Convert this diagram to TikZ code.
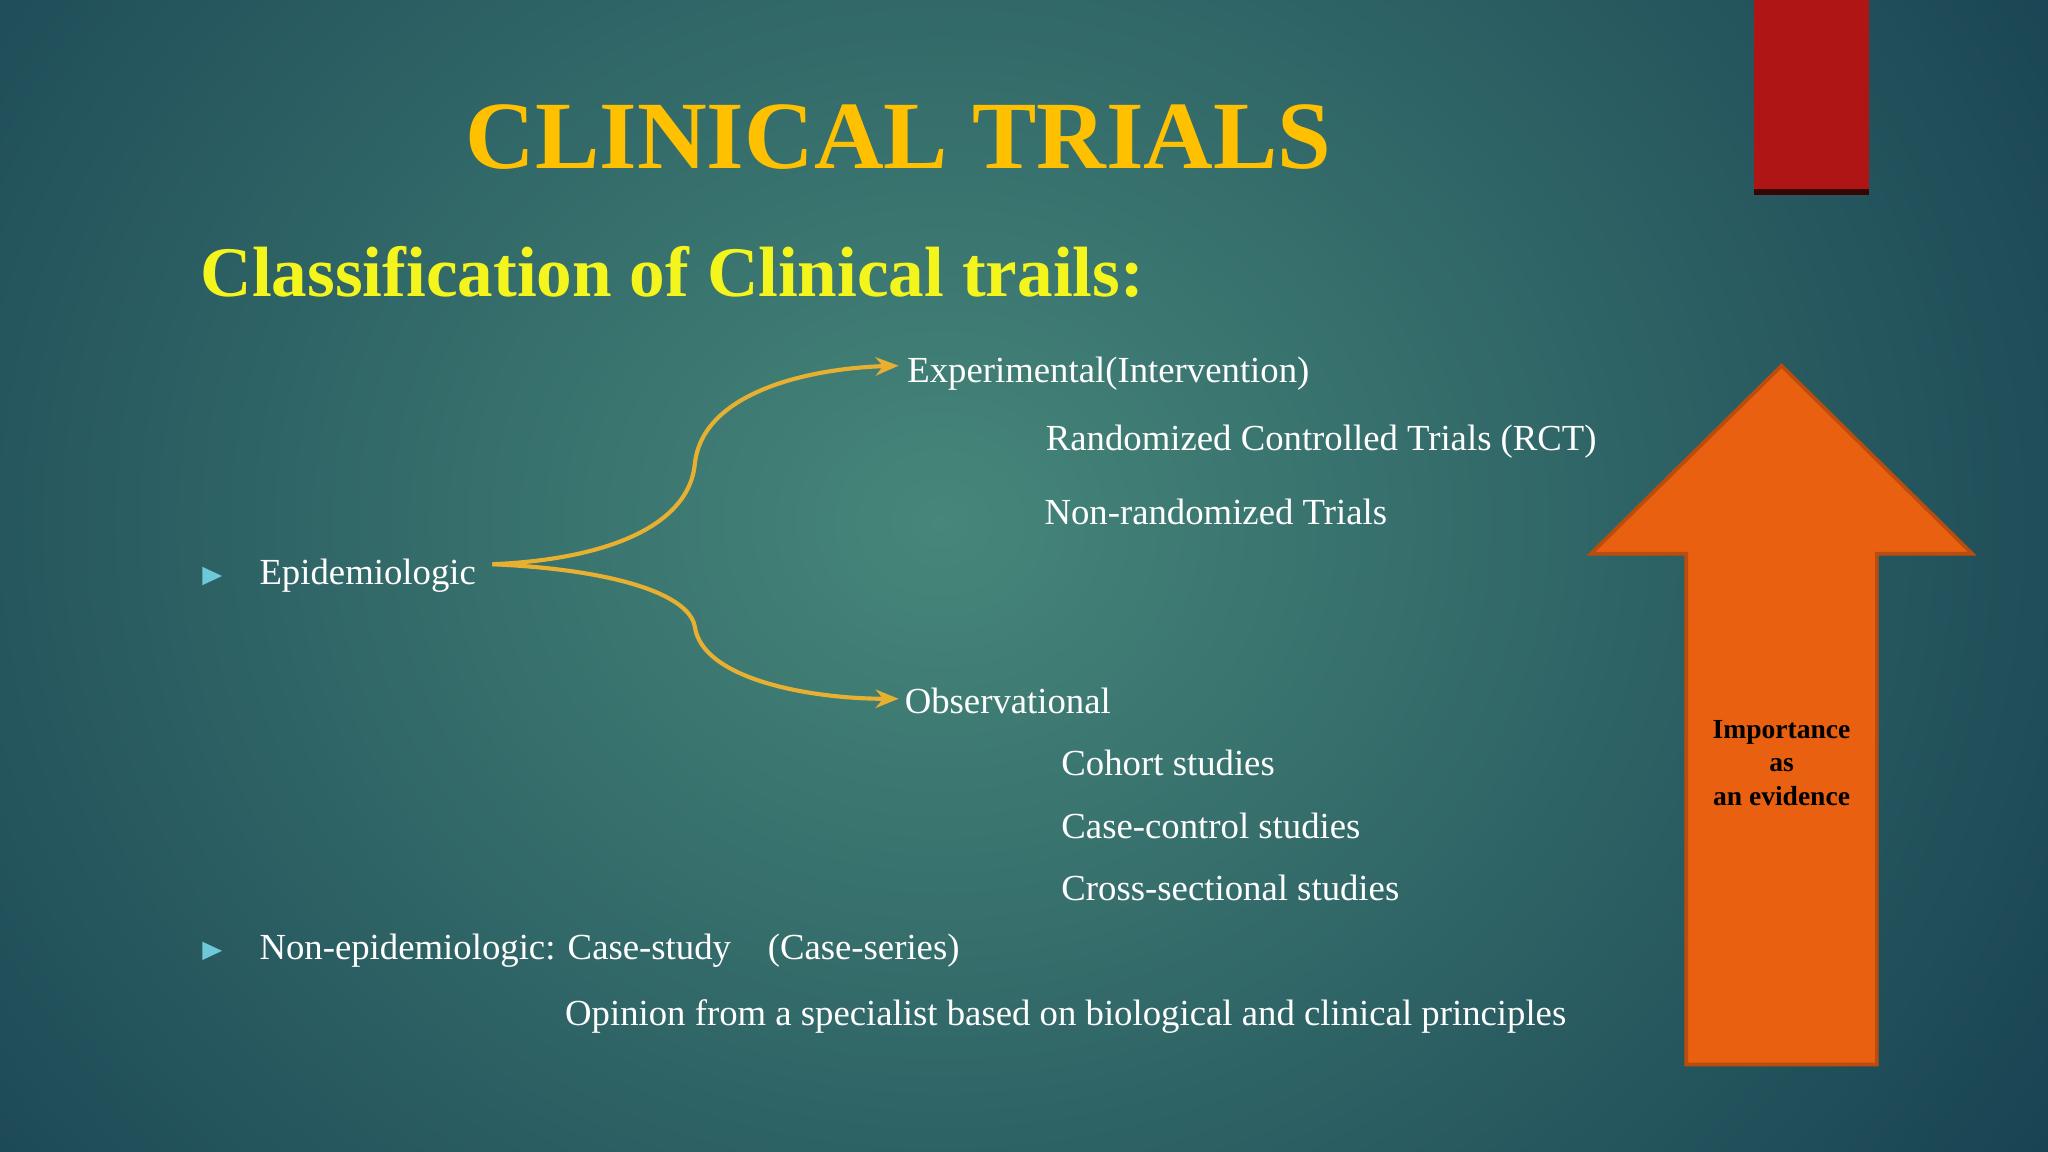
\documentclass[tikz,border=0pt]{standalone}
\usepackage{fontspec}
\setmainfont{Liberation Serif}
\usetikzlibrary{arrows.meta}
\definecolor{bgin}{RGB}{70,135,122}
\definecolor{bgout}{RGB}{24,66,82}
\definecolor{gold}{RGB}{255,192,0}
\definecolor{yel}{RGB}{245,245,30}
\definecolor{curve}{RGB}{232,176,48}
\definecolor{orng}{RGB}{232,96,16}
\definecolor{redbar}{RGB}{176,21,21}
\definecolor{tri}{RGB}{110,200,215}
\tikzset{
  body/.style={text=white,anchor=west,inner sep=0pt,font=\fontsize{8pt}{9.6pt}\selectfont},
  link/.style={curve,line width=0.9pt,-{Stealth[length=5pt,width=4pt]}},
  bullet/.style={fill=tri,draw=none}
}
\begin{document}
\begin{tikzpicture}[x=0.01cm,y=-0.01cm]
\useasboundingbox (0,0) rectangle (1568,882);
\shade[inner color=bgin,outer color=bgout] (-300,-500) rectangle (1740,1300);
% red bar
\fill[redbar] (1343,0) rectangle (1431,148);
\fill[black!70!redbar] (1343,145) rectangle (1431,149);
% arrow
\draw[orng!80!black,fill=orng,line width=0.8pt] (1291,815) -- (1291,424) -- (1218,424) -- (1364,280) -- (1510,424) -- (1437,424) -- (1437,815) -- cycle;
\node[align=center,font=\bfseries\fontsize{6pt}{7.3pt}\selectfont] (imp) at (1364,584) {Importance\\as\\an evidence};
% titles
\node[text=gold,font=\bfseries\fontsize{21pt}{25pt}\selectfont] (title) at (688,105) {CLINICAL TRIALS};
\node[text=yel,anchor=west,inner sep=0pt,font=\bfseries\fontsize{15.5pt}{18pt}\selectfont] (sub) at (153,208) {Classification of Clinical trails:};
% bullets
\fill[bullet] (155,434) -- (170,441) -- (155,448) -- cycle;
\fill[bullet] (155,721) -- (170,728) -- (155,735) -- cycle;
\node[body] (epi) at (198,441) {Epidemiologic};
\node[body] (exp) at (694,286) {Experimental(Intervention)};
\node[body] (rct) at (800,338) {Randomized Controlled Trials (RCT)};
\node[body] (nrt) at (799,392) {Non-randomized Trials};
\node[body] (obs) at (692,537) {Observational};
\node[body] (coh) at (812,584) {Cohort studies};
\node[body] (cc) at (812,632) {Case-control studies};
\node[body] (cs) at (812,680) {Cross-sectional studies};
\node[body] (nonepi) at (198,728) {Non-epidemiologic: Case-study\quad(Case-series)};
\node[body] (op) at (432,778) {Opinion from a specialist based on biological and clinical principles};
\coordinate (s) at (377,432);
\coordinate (e1) at (688,280);
\coordinate (e2) at (688,535);
\draw[link] (s) .. controls (470,428) and (528,400) .. (532,355) .. controls (538,300) and (620,282) .. (e1);
\draw[link] (s) .. controls (470,436) and (528,455) .. (532,480) .. controls (538,520) and (620,535) .. (e2);
\end{tikzpicture}
\end{document}
